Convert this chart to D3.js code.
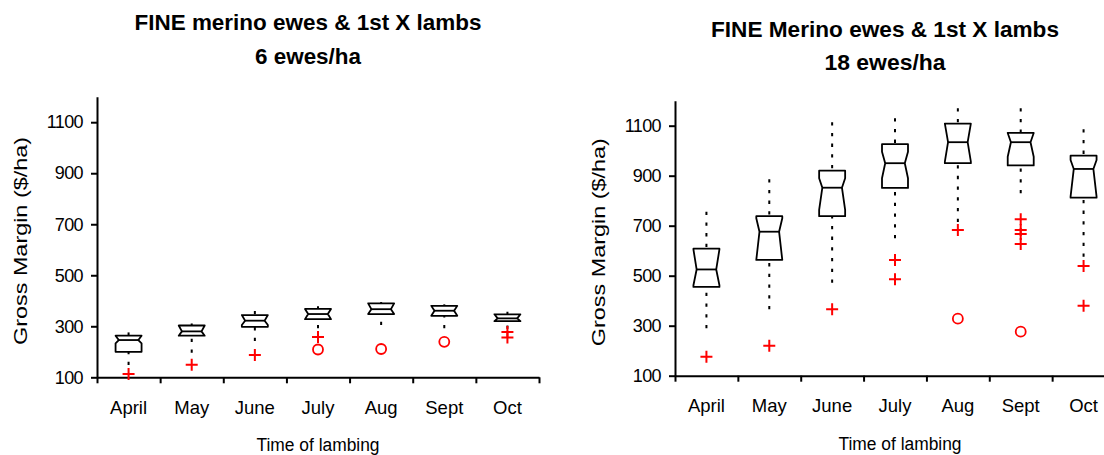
<!DOCTYPE html>
<html>
<head>
<meta charset="utf-8">
<script src="https://cdn.jsdelivr.net/npm/d3@7/dist/d3.min.js"></script>
<style>
    body { margin: 0; background: #fff; }
    svg { display: block; }
</style>
</head>
<body>
<svg></svg>
<script>
let width = 1104;
let height = 455;

let months = ["April", "May", "June", "July", "Aug", "Sept", "Oct"];
let yTicks = [100, 300, 500, 700, 900, 1100];

// 6 ewes/ha
let lowQ1 = [200, 263, 298, 328, 348, 341, 320];
let lowMed = [246, 280, 322, 348, 367, 361, 331];
let lowQ3 = [263, 303, 344, 368, 390, 380, 347];
let lowWhiskHi = [276, 311, 360, 379, 395, 386, 357];
let lowWhiskLo = [148, 196, 242, 292, 305, 292, 290];
let lowNotchLo = [233, 263, 305, 328, 348, 341, 320];
let lowNotchHi = [263, 303, 344, 368, 390, 380, 347];
let lowPlus = [[113], [149], [187], [258], [], [], [278, 256]];
let lowCircle = [[], [], [], [209], [211], [239], []];

// 18 ewes/ha
let highQ1 = [455, 563, 738, 851, 950, 941, 812];
let highMed = [525, 676, 852, 950, 1034, 1034, 927];
let highQ3 = [608, 738, 920, 1026, 1108, 1071, 980];
let highWhiskHi = [756, 886, 1114, 1130, 1170, 1170, 1086];
let highWhiskLo = [290, 366, 472, 650, 715, 830, 576];
let highNotchLo = [462, 563, 763, 890, 956, 976, 816];
let highNotchHi = [605, 730, 890, 996, 1108, 1071, 963];
let highPlus = [[176], [220], [366], [563, 486], [683], [726, 683, 667, 627], [539, 380]];
let highCircle = [[], [], [], [], [328], [276], []];

let font = "'Liberation Sans', Arial, sans-serif";

let svg = d3.select("svg")
    .attr("width", width)
    .attr("height", height)
    .style("font-family", font);

function makeBoxes(q1, med, q3, wHi, wLo, nLo, nHi, plus, circ) {
    let arr = [];
    for (let i = 0; i < months.length; i++) {
        arr.push({
            month: months[i], q1: q1[i], med: med[i], q3: q3[i],
            hi: wHi[i], lo: wLo[i], nLo: nLo[i], nHi: nHi[i],
            plus: plus[i], circ: circ[i]
        });
    }
    return arr;
}

drawPanel(svg, {
    x0: 97, x1: 539, y0: 377.3, y1: 96.7,
    title: ["FINE merino ewes & 1st X lambs", "6 ewes/ha"],
    titleX: 308, titleY: [30, 64], titleLen: [347, 106],
    labelY: 414, yLabelX: 27, xTitle: 318, xTitleY: 451
}, makeBoxes(lowQ1, lowMed, lowQ3, lowWhiskHi, lowWhiskLo, lowNotchLo, lowNotchHi, lowPlus, lowCircle));

drawPanel(svg, {
    x0: 675, x1: 1115, y0: 375.7, y1: 100.7,
    title: ["FINE Merino ewes & 1st X lambs", "18 ewes/ha"],
    titleX: 885, titleY: [37, 70], titleLen: [348, 121],
    labelY: 412, yLabelX: 605, xTitle: 900, xTitleY: 450
}, makeBoxes(highQ1, highMed, highQ3, highWhiskHi, highWhiskLo, highNotchLo, highNotchHi, highPlus, highCircle));

function drawPanel(svg, p, boxes) {
    let scaleX = d3.scaleBand().domain(months).range([p.x0, p.x1]);
    let scaleY = d3.scaleLinear().domain([100, 1200]).range([p.y0, p.y1]);
    let edges = d3.scaleLinear().domain([0, months.length]).range([p.x0, p.x1]);

    // ось Y
    let gy = svg.append("g")
        .attr("transform", `translate(${p.x0},0)`)
        .call(d3.axisLeft(scaleY).tickValues(yTicks).tickFormat(d3.format("d"))
            .tickSize(6).tickPadding(8).tickSizeOuter(0));
    gy.selectAll("text")
        .attr("font-size", 18)
        .attr("font-family", font)
        .attr("letter-spacing", -0.6)
        .attr("fill", "#000");

    // ось X: деления на границах
    svg.append("g")
        .attr("transform", `translate(0,${p.y0})`)
        .call(d3.axisBottom(edges).tickValues(d3.range(0, months.length + 1)).tickFormat("")
            .tickSize(6).tickSizeOuter(0));

    svg.selectAll(".domain, .tick line")
        .attr("stroke", "#000")
        .attr("stroke-width", 2);

    // подписи месяцев
    let gl = svg.append("g")
        .attr("transform", `translate(0,${p.labelY})`)
        .call(d3.axisBottom(scaleX).tickSize(0).tickPadding(0));
    gl.select(".domain").remove();
    gl.selectAll("text")
        .attr("dy", 0)
        .attr("font-size", 18.5)
        .attr("font-family", font)
        .attr("fill", "#000");

    // заголовок
    p.title.forEach(function (t, i) {
        svg.append("text")
            .attr("x", p.titleX)
            .attr("y", p.titleY[i])
            .attr("text-anchor", "middle")
            .attr("font-weight", "bold")
            .attr("font-size", 22)
            .attr("textLength", p.titleLen[i])
            .attr("lengthAdjust", "spacingAndGlyphs")
            .text(t);
    });

    svg.append("text")
        .attr("transform", `translate(${p.yLabelX},${(p.y0 + p.y1) / 2 + 4}) rotate(-90)`)
        .attr("text-anchor", "middle")
        .attr("font-size", 18)
        .attr("textLength", 208)
        .attr("lengthAdjust", "spacingAndGlyphs")
        .text("Gross Margin ($/ha)");

    svg.append("text")
        .attr("x", p.xTitle)
        .attr("y", p.xTitleY)
        .attr("text-anchor", "middle")
        .attr("font-size", 18)
        .attr("textLength", 123)
        .attr("lengthAdjust", "spacingAndGlyphs")
        .text("Time of lambing");

    let half = 13;
    let ind = 3.2;
    let g = svg.append("g");

    // усы пунктиром
    g.selectAll(".whiskHi")
        .data(boxes)
        .enter()
        .append("line")
        .attr("x1", d => scaleX(d.month) + scaleX.bandwidth() / 2)
        .attr("x2", d => scaleX(d.month) + scaleX.bandwidth() / 2)
        .attr("y1", d => scaleY(d.hi))
        .attr("y2", d => scaleY(d.q3))
        .attr("stroke", "#000")
        .attr("stroke-width", 2)
        .attr("stroke-dasharray", "3.3,7.4");

    g.selectAll(".whiskLo")
        .data(boxes)
        .enter()
        .append("line")
        .attr("x1", d => scaleX(d.month) + scaleX.bandwidth() / 2)
        .attr("x2", d => scaleX(d.month) + scaleX.bandwidth() / 2)
        .attr("y1", d => scaleY(d.lo))
        .attr("y2", d => scaleY(d.q1))
        .attr("stroke", "#000")
        .attr("stroke-width", 2)
        .attr("stroke-dasharray", "3.3,7.4");

    // ящики с вырезом
    let line = d3.line();
    g.selectAll(".box")
        .data(boxes)
        .enter()
        .append("path")
        .attr("d", function (d) {
            let c = scaleX(d.month) + scaleX.bandwidth() / 2;
            let l = c - half, r = c + half;
            let pts = [
                [l, scaleY(d.q1)], [l, scaleY(d.nLo)], [l + ind, scaleY(d.med)],
                [l, scaleY(d.nHi)], [l, scaleY(d.q3)], [r, scaleY(d.q3)],
                [r, scaleY(d.nHi)], [r - ind, scaleY(d.med)], [r, scaleY(d.nLo)],
                [r, scaleY(d.q1)]
            ];
            return line(pts) + "Z";
        })
        .attr("fill", "#fff")
        .attr("stroke", "#000")
        .attr("stroke-width", 1.8)
        .attr("stroke-linejoin", "round");

    g.selectAll(".median")
        .data(boxes)
        .enter()
        .append("line")
        .attr("x1", d => scaleX(d.month) + scaleX.bandwidth() / 2 - half + ind)
        .attr("x2", d => scaleX(d.month) + scaleX.bandwidth() / 2 + half - ind)
        .attr("y1", d => scaleY(d.med))
        .attr("y2", d => scaleY(d.med))
        .attr("stroke", "#000")
        .attr("stroke-width", 1.8);

    // выбросы
    let plusPts = [];
    let circPts = [];
    boxes.forEach(function (d) {
        d.plus.forEach(v => plusPts.push({ month: d.month, v: v }));
        d.circ.forEach(v => circPts.push({ month: d.month, v: v }));
    });

    g.selectAll(".plus")
        .data(plusPts)
        .enter()
        .append("path")
        .attr("d", function (d) {
            let cx = scaleX(d.month) + scaleX.bandwidth() / 2;
            let cy = scaleY(d.v);
            return `M${cx - 6},${cy}H${cx + 6}M${cx},${cy - 6}V${cy + 6}`;
        })
        .attr("stroke", "#ff0000")
        .attr("stroke-width", 2)
        .attr("fill", "none");

    g.selectAll(".circ")
        .data(circPts)
        .enter()
        .append("circle")
        .attr("cx", d => scaleX(d.month) + scaleX.bandwidth() / 2)
        .attr("cy", d => scaleY(d.v))
        .attr("r", 5)
        .attr("stroke", "#ff0000")
        .attr("stroke-width", 1.8)
        .attr("fill", "none");
}
</script>
</body>
</html>
